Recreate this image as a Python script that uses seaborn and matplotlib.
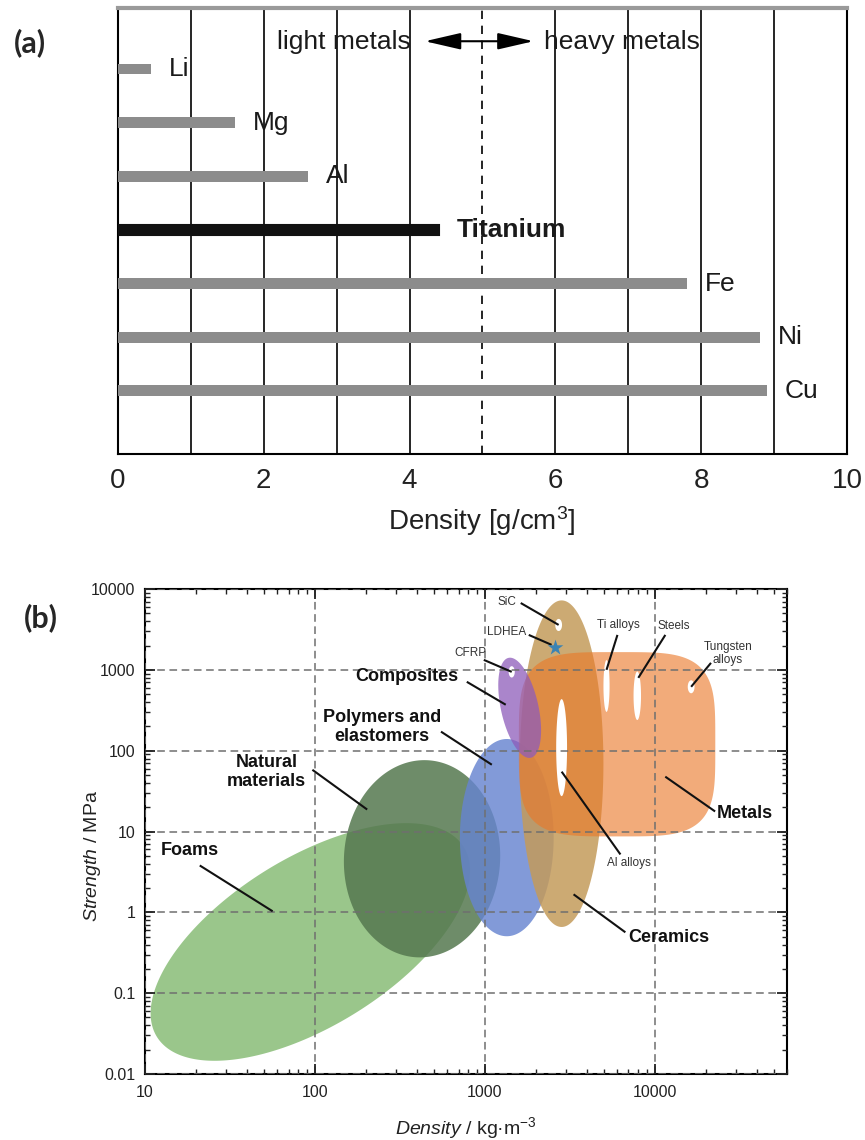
import numpy as np
import matplotlib
matplotlib.use("Agg")
import matplotlib.pyplot as plt
from matplotlib.ticker import FuncFormatter, FixedLocator
import seaborn as sns

# ---------------- Panel (a) data ----------------
metals = ["Li", "Mg", "Al", "Titanium", "Fe", "Ni", "Cu"]
density_gcc = [0.45, 1.6, 2.6, 4.4, 7.8, 8.8, 8.9]
a_xticks = [0, 2, 4, 6, 8, 10]

# ---------------- Panel (b) data ----------------
classes = ["Foams", "Natural materials", "Polymers and elastomers",
           "Ceramics", "Metals", "Composites"]
class_density = [94, 427, 1346, 2830, 6000, 1603]      # centre, kg/m3
class_strength = [0.43, 4.6, 8.4, 69, 120, 339]        # centre, MPa
class_dx = [0.94, 0.46, 0.276, 0.246, 0.578, 0.126]    # half extent, decades
class_dy = [1.47, 1.22, 1.22, 2.02, 1.14, 0.62]        # half extent, decades
class_tilt = [0.6, 0.03, 0.0, 0.0, 0.0, -0.45]
class_power = [2, 2, 2, 2, 4, 2]

hole_names = ["SiC", "CFRP", "Al alloys", "Ti alloys", "Steels", "Tungsten alloys"]
hole_density = [2718, 1439, 2830, 5200, 7890, 16370]
hole_strength = [3590, 944, 109, 631, 478, 617]
hole_dx = [0.02, 0.018, 0.032, 0.018, 0.022, 0.02]
hole_dy = [0.075, 0.07, 0.6, 0.32, 0.3, 0.08]

ldhea_density = [2606]
ldhea_strength = [1871]

ann_labels = ["Foams", "Natural\nmaterials", "Polymers and\nelastomers", "Composites",
              "Metals", "Ceramics", "CFRP", "SiC", "LDHEA", "Ti alloys", "Steels",
              "Tungsten\nalloys", "Al alloys"]
ann_bold = [True, True, True, True, True, True, False, False, False, False, False, False, False]
ann_text_x = [18.4, 52, 249, 349, 33960, 12160, 828, 1346, 1346, 6109, 12850, 26980, 7000]
ann_text_y = [5.8, 55, 198, 820, 16.7, 0.49, 1622, 6913, 2944, 3594, 3494, 1578, 4.03]
ann_from_x = [21, 96.6, 552, 783, 11530, 3327, 986, 1626, 1813, 6030, 11540, 21420, 2831]
ann_from_y = [3.8, 58, 172, 711, 47.7, 1.67, 1328, 6710, 2704, 2704, 2704, 1219, 55]
ann_to_x = [56.4, 203, 1099, 1327, 22650, 6714, 1439, 2718, 2471, 5200, 8000, 16370, 6280]
ann_to_y = [1.03, 18.7, 67, 370, 17.7, 0.566, 944, 3594, 2037, 1000, 796, 617, 5.2]

b_xticks = [10, 100, 1000, 10000]
b_yticks = [0.01, 0.1, 1, 10, 100, 1000, 10000]

# ---------------- style ----------------
sns.set_theme(style="ticks")
plt.rcParams["font.family"] = ["Liberation Sans", "DejaVu Sans"]
plt.rcParams["mathtext.fontset"] = "custom"
plt.rcParams["mathtext.rm"] = "Liberation Sans"
plt.rcParams["mathtext.it"] = "Liberation Sans:italic"
plt.rcParams["mathtext.bf"] = "Liberation Sans:bold"

fig = plt.figure(figsize=(8.65, 11.4), dpi=100)

# ======================= Panel (a) =======================
ax1 = fig.add_axes([118 / 865, 1 - 454 / 1140, 729 / 865, 446 / 1140])
gray, dark = "#8c8c8c", "#111111"
pal = [dark if m == "Titanium" else gray for m in metals]
sns.barplot(x=density_gcc, y=metals, hue=metals, palette=pal, orient="h",
            width=0.2, legend=False, ax=ax1, zorder=3)
for p, m in zip(ax1.patches, metals):
    if m == "Titanium":
        p.set_edgecolor(dark)
        p.set_linewidth(1.5)
    else:
        p.set_linewidth(0)

ax1.set_xlim(0, 10)
ax1.set_ylim(7.18, -1.14)
ax1.set_xticks(a_xticks)
ax1.xaxis.set_minor_locator(FixedLocator([1, 3, 7, 9]))
ax1.grid(True, axis="x", which="both", color="black", lw=1.2, zorder=1)
ax1.axvline(5, color="black", lw=1.2, ls=(0, (5, 4)), zorder=1)
ax1.set_yticks([])
ax1.set_ylabel("")
ax1.tick_params(axis="x", which="both", length=0, labelsize=20, pad=10, colors="#222222")
for s in ["left", "bottom", "right"]:
    ax1.spines[s].set_color("black")
    ax1.spines[s].set_linewidth(1.5)
ax1.spines["top"].set_color("#9a9a9a")
ax1.spines["top"].set_linewidth(3)
ax1.set_xlabel("Density [g/cm$^3$]", fontsize=20, color="#222222")
ax1.xaxis.set_label_coords(0.499, -0.112)

for i, (m, v) in enumerate(zip(metals, density_gcc)):
    ax1.text(v + 0.25, i, m, va="center", ha="left", fontsize=19,
             fontweight="bold" if m == "Titanium" else "normal", color="#1a1a1a")

ax1.text(4.02, -0.50, "light metals", ha="right", va="center", fontsize=19, color="#1a1a1a")
ax1.text(5.85, -0.50, "heavy metals", ha="left", va="center", fontsize=19, color="#1a1a1a")
ax1.annotate("", xy=(5.70, -0.52), xytext=(4.21, -0.52),
             arrowprops=dict(arrowstyle="<|-|>,head_length=1.3,head_width=0.3",
                             color="black", lw=1.5, mutation_scale=17, shrinkA=0, shrinkB=0))

# ======================= Panel (b) =======================
ax2 = fig.add_axes([145 / 865, 1 - 1074 / 1140, 642 / 865, 485 / 1140])
ax2.set_xscale("log")
ax2.set_yscale("log")
ax2.set_xlim(10, 60000)
ax2.set_ylim(0.01, 10000)


def outline(cx, cy, dx, dy, tilt, power, n=500):
    t = np.linspace(0, 2 * np.pi, n)
    if power == 2:
        phi = np.arccos(tilt)
        u = dx * np.cos(t)
        v = dy * np.cos(t - phi)
    else:
        c, s = np.cos(t), np.sin(t)
        u = dx * np.sign(c) * np.abs(c) ** (2 / power)
        v = dy * np.sign(s) * np.abs(s) ** (2 / power)
    return 10 ** (np.log10(cx) + u), 10 ** (np.log10(cy) + v)


class_colors = {"Foams": ("#78b464", 0.75), "Natural materials": ("#55784f", 0.85),
                "Polymers and elastomers": ("#6684d0", 0.82), "Ceramics": ("#c49b5b", 0.85),
                "Metals": ("#ea7828", 0.62), "Composites": ("#8e5cba", 0.75)}
for name, cx, cy, dx, dy, tl, pw in zip(classes, class_density, class_strength,
                                        class_dx, class_dy, class_tilt, class_power):
    xs, ys = outline(cx, cy, dx, dy, tl, pw)
    col, al = class_colors[name]
    ax2.fill(xs, ys, color=col, alpha=al, lw=0, zorder=1)

for cx, cy, dx, dy in zip(hole_density, hole_strength, hole_dx, hole_dy):
    xs, ys = outline(cx, cy, dx, dy, 0.0, 2)
    ax2.fill(xs, ys, color="white", lw=0, zorder=1.5)

sns.scatterplot(x=ldhea_density, y=ldhea_strength, marker="*", s=140, color="#3a83b4",
                edgecolor="none", ax=ax2, zorder=5, legend=False)

for lab, b, tx, ty, fx, fy, ex, ey in zip(ann_labels, ann_bold, ann_text_x, ann_text_y,
                                          ann_from_x, ann_from_y, ann_to_x, ann_to_y):
    ax2.plot([fx, ex], [fy, ey], color="#111111", lw=1.5, zorder=4, solid_capstyle="butt")
    ax2.text(tx, ty, lab, ha="center", va="center", fontsize=13 if b else 8.5,
             fontweight="bold" if b else "normal", color="#111111" if b else "#333333",
             linespacing=1.15, zorder=6)

ax2.set_axisbelow(False)
ax2.grid(True, which="major", ls=(0, (5, 3)), color="#6f6f6f", lw=1.1)
ax2.set_xticks(b_xticks)
ax2.set_yticks(b_yticks)
fmt = FuncFormatter(lambda v, p: f"{v:g}")
ax2.xaxis.set_major_formatter(fmt)
ax2.yaxis.set_major_formatter(fmt)
ax2.tick_params(which="both", direction="in", top=True, right=True, colors="#222222",
                labelsize=11.5)
ax2.tick_params(which="major", length=7, width=1.3)
ax2.tick_params(which="minor", length=3.5, width=1.0)
ax2.tick_params(axis="x", pad=8)
ax2.tick_params(axis="y", pad=7)
for s in ax2.spines.values():
    s.set_color("black")
    s.set_linewidth(1.5)
ax2.set_xlabel("$\\mathit{Density}$ / kg\u00b7m$^{-3}$", fontsize=14, color="#222222")
ax2.set_ylabel("$\\mathit{Strength}$ / MPa", fontsize=14, color="#222222")
ax2.xaxis.set_label_coords(0.50, -0.084)
ax2.yaxis.set_label_coords(-0.066, 0.45)

# panel letters
fig.text(30 / 865, 1 - 43 / 1140, "(a)", ha="center", va="center", fontsize=22,
         fontweight="bold", family=["Lato", "DejaVu Sans"])
fig.text(41 / 865, 1 - 618 / 1140, "(b)", ha="center", va="center", fontsize=22,
         fontweight="bold", family=["Lato", "DejaVu Sans"])

fig.savefig("out.png", dpi=100, facecolor="white")
